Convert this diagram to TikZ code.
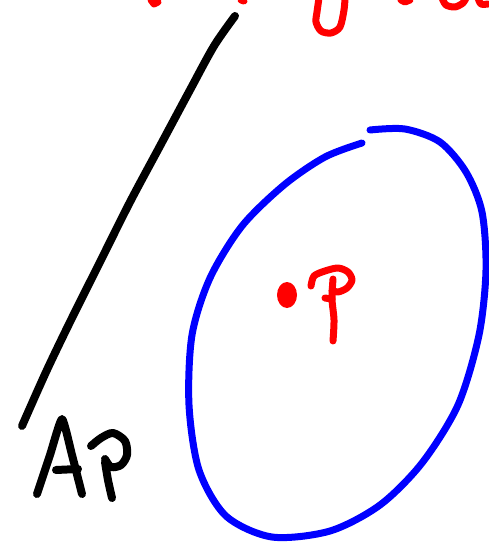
\documentclass[tikz,border=0pt]{standalone}
\begin{document}
\begin{tikzpicture}[x=1pt,y=-1pt,
  pen/.style={line width=#1, line cap=round, line join=round},
  ink/.style={pen=8pt, black},
  blueink/.style={pen=7pt, blue},
  redink/.style={pen=7pt, red}]
\useasboundingbox (0,0) rectangle (488,543);
% black stroke
\draw[ink] plot[smooth] coordinates {(235,16) (214,46) (190,90) (160,146) (130,202) (100,262) (70,322) (46,372) (22,426)};
% A
\draw[ink] plot[smooth, tension=0.3] coordinates {(37,494) (50,455) (62,419) (72,455) (82,494)};
\draw[ink] (56,470) -- (78,469);
% p
\draw[ink] plot[smooth] coordinates {(91,446) (101,438) (113,433) (125,441) (127,455) (121,465) (111,467) (105,459)};
\draw[ink] plot[smooth] coordinates {(105,462) (108,480) (112,498)};
% blue ellipse
\draw[blueink] plot[smooth] coordinates {(370,130) (405,129) (440,142) (466,172) (482,212) (486,270) (479,335) (458,405) (422,463) (380,505) (330,531) (272,537) (226,516) (199,470) (189,405) (192,335) (210,278) (242,226) (284,185) (325,157) (362,143)};
% red dot and P
\fill[red] (287,295) ellipse[x radius=10pt, y radius=13pt];
\draw[redink] plot[smooth] coordinates {(311,286) (314,276) (325,271) (338,268) (348,272) (352,280) (347,288) (338,292) (332,290)};
\draw[redink] plot[smooth] coordinates {(333,279) (332,299) (334,320) (333,341)};
\draw[redink] (325,298) -- (332,299);
% red text fragments cut at top
\draw[redink] (151,0) -- (154,4) -- (158,2);
\draw[redink] (241,0) -- (244,1);
\draw[redink] plot[smooth] coordinates {(319,-2) (317,12) (316,22) (321,31) (331,33) (340,27) (344,10) (345,-2)};
\draw[redink] (401,0) -- (405,2) -- (410,0);
\draw[redink] plot[smooth] coordinates {(442,-2) (446,5) (455,7) (463,3) (466,-2)};
\draw[redink] plot[smooth] coordinates {(478,-2) (481,4) (488,4)};
\end{tikzpicture}
\end{document}
